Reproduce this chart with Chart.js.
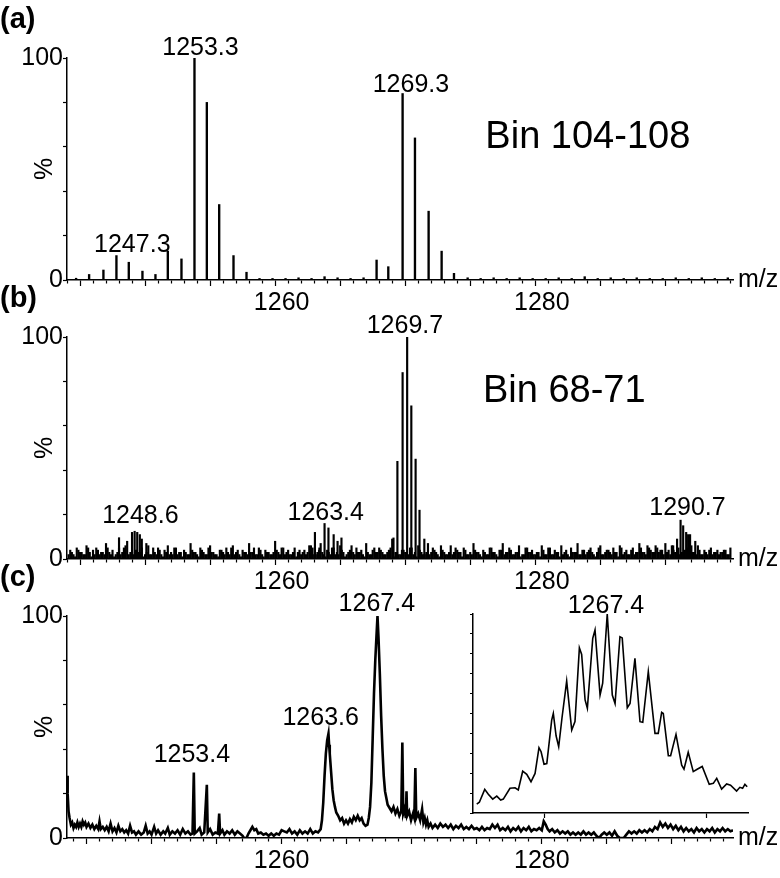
<!DOCTYPE html>
<html>
<head>
<meta charset="utf-8">
<script src="https://cdn.jsdelivr.net/npm/chart.js@4.4.0/dist/chart.umd.min.js"></script>
<style>
  body { margin: 0; background: #fff; width: 780px; height: 878px; position: relative; overflow: hidden; }
  canvas { position: absolute; left: 0; }
</style>
</head>
<body>
<canvas id="chartA" width="780" height="320" style="top:0px"></canvas>
<canvas id="chartB" width="780" height="320" style="top:279px"></canvas>
<canvas id="chartC" width="780" height="320" style="top:558px"></canvas>
<canvas id="chartInset" width="360" height="240" style="left:400px;top:590px"></canvas>
<script>
var FONT = "'Liberation Sans', Arial, sans-serif";

// shared axes
var mzMin = 1243.5, mzMax = 1294.7;
var xLabels = [1260, 1280];
var yLabels = [0, 100];

// (a) Bin 104-108
var mzA = [1244.2, 1245.2, 1246.3, 1247.3, 1248.25, 1249.3, 1250.3, 1251.25, 1252.3, 1253.3,
           1254.25, 1255.2, 1256.3, 1257.3, 1258.3, 1259.3, 1260.3, 1261.3, 1262.3, 1263.3,
           1264.3, 1265.3, 1266.3, 1267.3, 1268.2, 1269.3, 1270.25, 1271.3, 1272.3, 1273.25,
           1274.3, 1275.3, 1276.3, 1277.3, 1278.3, 1279.3, 1280.3, 1281.3, 1282.3, 1283.3,
           1284.3, 1285.3, 1286.3, 1287.3, 1288.3, 1289.3, 1290.3, 1291.3, 1292.3, 1293.3, 1294.3];
var intA = [0.8, 2.5, 4.5, 11, 8, 4, 2.5, 13, 9.5, 100,
            80, 34, 11, 3.5, 0.7, 0.7, 0.7, 1, 0.7, 1.5,
            1, 0.7, 1, 9, 6, 84, 64, 31, 13, 3,
            1, 0.7, 1, 0.7, 1, 0.7, 0.7, 1, 0.7, 1.5,
            0.7, 1, 0.7, 1, 0.7, 0.7, 1, 0.7, 1, 0.7, 1];

// (b) Bin 68-71
var mzB = [1247.5, 1248.5, 1248.7, 1248.9, 1249.1, 1249.25, 1249.6,
           1262.56, 1262.9, 1263.3, 1263.6, 1264.0, 1264.3, 1264.6,
           1268.6, 1268.9, 1269.3, 1269.65, 1269.97, 1270.3, 1270.6, 1270.97,
           1290.1, 1290.4, 1290.67, 1290.87, 1291.1, 1291.25, 1291.4, 1291.8];
var intB = [9.6, 12, 12.5, 12, 11, 9, 7,
            12, 5, 16, 14, 11, 8, 9.5,
            9.5, 44, 84, 100, 69, 45, 22, 9,
            6, 9, 17.5, 15, 12, 11, 11, 8];
var noiseStartB = 1243.75, noiseStartB2 = 1243.625, noiseStepB = 0.25;
var noiseB = [4,2,5,3, 2,6,3,4, 5,2,3,7, 3,4,2,5, 3,6,2,3, 4,3,5,2, 6,2,3,5, 2,4,6,3,
              5,2,3,4, 2,7,3,2, 5,3,2,6, 3,2,4,3, 5,2,6,3, 2,4,3,7, 3,2,5,2, 4,3,2,8,
              3,5,2,4, 2,5,3,2, 4,3,6,2, 3,7,2,4, 2,5,3,6, 3,2,4,3, 5,3,2,7, 2,4,3,5,
              3,2,4,9, 3,2,4,3, 2,5,3,6, 3,2,7,3, 4,2,6,3, 2,6,3,4, 3,5,2,3, 7,3,2,4,
              2,5,3,2, 4,7,3,5, 2,3,6,2, 5,3,4,2, 3,6,2,5, 2,4,3,6, 3,2,5,3, 7,2,4,3,
              5,2,3,6, 2,4,3,5, 3,6,2,4, 2,5,3,7, 3,2,5,3, 6,3,4,7, 4,6,3,5, 3,4,5,6,
              3,6,2,4, 2,5,3,4, 3,4,2,5];
var noiseB2 = [2,3,1,4, 3,2,5,1, 2,4,3,2, 5,2,1,3, 2,5,8,3, 2,4,3,1, 3,2,5,2, 4,1,3,2,
               2,5,3,1, 3,2,4,3, 1,4,2,5, 3,2,1,4, 2,3,5,2, 4,1,3,2, 3,5,2,4, 1,3,2,3,
               4,2,5,3, 2,3,1,4, 3,2,6,5, 2,4,3,1, 3,5,2,2, 4,1,3,6, 2,3,4,1, 3,2,5,3,
               4,2,3,5, 1,3,2,4, 3,5,2,1, 4,2,3,2, 5,3,1,4, 2,3,2,5, 3,1,4,2, 2,4,3,1,
               3,2,5,3, 1,4,2,3, 4,2,3,1, 2,5,3,2, 3,1,4,2, 5,2,3,1, 2,4,1,3, 3,2,4,2,
               4,3,1,5, 2,3,4,2, 3,1,5,3, 2,4,2,3, 5,3,6,4, 3,5,4,2, 3,2,4,3, 2,3,1,4,
               3,2,4,2, 3,4,2,3, 2,3,4,2];

// (c) profile trace [m/z, %]
var traceC = [
  [1243.5,28],[1243.55,20],[1243.62,12],[1243.7,9],[1243.8,6],[1243.9,7],[1244.0,4.5],[1244.1,6],
  [1244.2,5],[1244.3,7],[1244.4,5],[1244.5,6.5],[1244.6,5],[1244.7,7.5],[1244.8,6],[1244.9,7],
  [1245.0,5],[1245.15,6.5],[1245.3,4.5],[1245.45,6],[1245.6,4],[1245.75,5.5],[1245.9,4],[1246.0,7.5],
  [1246.1,4],[1246.25,5],[1246.4,3.5],[1246.55,5],[1246.7,3],[1246.85,6.5],[1247.0,3],[1247.15,4.5],
  [1247.3,2.5],[1247.45,5.5],[1247.6,3],[1247.75,4],[1247.9,2.5],[1248.05,3.5],[1248.2,2],[1248.35,5.5],
  [1248.5,2.5],[1248.65,3],[1248.8,1.5],[1249.0,3],[1249.2,1.5],[1249.4,2.5],[1249.55,5.5],[1249.7,2],
  [1249.85,3],[1250.0,1.5],[1250.2,5],[1250.35,2],[1250.5,3.5],[1250.7,1.5],[1250.9,3],[1251.05,2],
  [1251.25,4.5],[1251.4,1.5],[1251.6,3],[1251.8,2],[1252.0,3.5],[1252.2,1.5],[1252.4,4],[1252.6,2],
  [1252.8,3],[1253.0,1.5],[1253.15,2],[1253.25,29.5],[1253.32,2],[1253.5,3],[1253.7,4.5],[1253.85,1.5],
  [1254.05,2.5],[1254.25,24],[1254.32,2.5],[1254.5,4],[1254.7,1.5],[1254.9,2.5],[1255.1,2],[1255.2,11],
  [1255.27,2],[1255.45,3.5],[1255.6,1.5],[1255.8,3],[1256.0,2],[1256.2,3.5],[1256.4,1.5],[1256.6,3],
  [1256.8,2],[1257.0,1],[1257.1,0],[1257.3,0],[1257.45,2],[1257.6,3.5],[1257.75,5],[1257.9,3.5],
  [1258.05,4],[1258.2,2],[1258.4,2.5],[1258.6,1.5],[1258.8,2],[1259.0,1],[1259.2,2],[1259.4,1],
  [1259.6,2],[1259.8,1.5],[1260.0,3.5],[1260.2,3],[1260.4,2.5],[1260.6,4],[1260.8,2],[1261.0,3],
  [1261.2,1.5],[1261.4,3.5],[1261.6,2],[1261.8,3],[1262.0,2],[1262.2,4],[1262.4,2],[1262.6,3],
  [1262.8,2.5],[1263.0,4],[1263.1,8],[1263.2,16],[1263.3,28],[1263.4,38],[1263.5,44],[1263.6,47],
  [1263.65,42],[1263.7,38],[1263.8,30],[1263.9,22],[1264.0,17],[1264.1,14],[1264.2,11.5],[1264.35,10],
  [1264.5,8],[1264.65,9],[1264.8,6.5],[1264.95,8],[1265.1,6.5],[1265.25,8.5],[1265.4,7],[1265.55,9.5],
  [1265.7,8],[1265.85,10],[1266.0,8],[1266.15,9],[1266.3,6.5],[1266.45,5.5],[1266.6,6],[1266.7,9],
  [1266.8,14],[1266.9,25],[1267.0,45],[1267.1,65],[1267.2,80],[1267.3,92],[1267.37,100],[1267.45,90],
  [1267.55,74],[1267.65,55],[1267.75,40],[1267.85,28],[1267.95,21],[1268.05,18],[1268.15,15],[1268.3,13.5],
  [1268.45,12],[1268.6,14],[1268.75,11],[1268.9,13],[1269.05,10],[1269.2,12],[1269.28,43],[1269.35,11],
  [1269.45,13],[1269.55,9],[1269.6,21],[1269.65,10],[1269.8,12],[1269.95,8],[1270.1,11],[1270.2,9],
  [1270.28,31.5],[1270.35,9],[1270.5,11],[1270.65,8],[1270.8,13],[1270.9,7],[1271.0,9],[1271.1,6],
  [1271.2,8],[1271.3,5],[1271.45,6.5],[1271.6,4.5],[1271.8,6],[1272.0,4.5],[1272.2,6.5],[1272.4,5],
  [1272.6,6],[1272.8,4.5],[1273.0,6],[1273.2,4],[1273.4,5.5],[1273.6,4.5],[1273.8,6],[1274.0,4],
  [1274.2,5],[1274.4,4],[1274.6,5.5],[1274.8,4],[1275.0,4.5],[1275.2,3.5],[1275.4,5],[1275.6,3.5],
  [1275.8,4.5],[1276.0,4],[1276.2,6],[1276.4,4.5],[1276.6,6],[1276.8,3.5],[1277.0,4.5],[1277.2,3.5],
  [1277.4,5],[1277.6,3],[1277.8,4.5],[1278.0,3.5],[1278.2,5],[1278.4,3],[1278.6,4.5],[1278.8,3.5],
  [1279.0,5],[1279.2,3],[1279.4,4],[1279.6,3.5],[1279.8,4.5],[1280.0,3.5],[1280.15,7.5],[1280.3,6],
  [1280.45,4],[1280.6,3],[1280.8,4],[1281.0,2.5],[1281.2,3.5],[1281.4,2],[1281.6,3],[1281.8,2],
  [1282.0,3],[1282.2,1.5],[1282.4,2.5],[1282.6,1.5],[1282.8,2.5],[1283.0,1.5],[1283.2,3],[1283.4,1.5],
  [1283.6,2.5],[1283.8,1.5],[1284.0,2.5],[1284.2,1],[1284.4,0],[1284.6,1.5],[1284.8,2.5],[1285.0,1.5],
  [1285.2,2.5],[1285.4,1],[1285.6,3],[1285.8,1],[1286.0,0],[1286.3,0],[1286.5,1.5],[1286.7,3],
  [1286.9,2],[1287.1,3],[1287.3,2],[1287.5,3.5],[1287.7,2.5],[1287.9,3.5],[1288.1,2.5],[1288.3,4],
  [1288.5,3],[1288.7,5],[1288.9,4],[1289.1,7],[1289.3,5],[1289.5,6.5],[1289.7,4.5],[1289.9,6],
  [1290.1,4],[1290.3,5.5],[1290.5,3.5],[1290.7,5],[1290.9,3],[1291.1,4.5],[1291.3,3],[1291.5,4],
  [1291.7,2.5],[1291.9,4.5],[1292.1,3],[1292.3,4],[1292.5,2.5],[1292.7,4],[1292.9,3],[1293.1,4.5],
  [1293.3,2.5],[1293.5,4],[1293.7,3],[1293.9,4.5],[1294.1,3],[1294.3,4],[1294.5,3],[1294.7,3.5]
];

// (c) inset: zoom on the 1267.4 envelope
var insetMin = 1266.564, insetMax = 1268.252;
var insetTicks = [1267, 1268];
var traceInset = [
  [1266.587,4.5],[1266.603,5.4],[1266.636,11.9],[1266.658,9.4],[1266.685,7],[1266.710,8.5],[1266.734,6.5],
  [1266.750,7],[1266.791,12.4],[1266.822,12.7],[1266.842,11.6],[1266.869,21],[1266.894,19.4],[1266.920,15.7],
  [1266.945,19.9],[1266.969,32.8],[1266.982,30.8],[1267.000,24.5],[1267.017,24.8],[1267.047,46.7],[1267.057,50],
  [1267.074,38.8],[1267.090,33.3],[1267.110,47.6],[1267.139,66.3],[1267.170,41.7],[1267.190,45.9],[1267.217,83],
  [1267.231,79.7],[1267.252,56.8],[1267.266,52.6],[1267.299,87.8],[1267.313,92],[1267.344,59.3],[1267.360,65.2],
  [1267.388,100],[1267.419,59.3],[1267.436,55],[1267.466,88.6],[1267.480,88],[1267.511,52.9],[1267.528,55],
  [1267.558,77.7],[1267.589,45.9],[1267.606,45.6],[1267.640,71],[1267.681,40],[1267.701,40],[1267.722,50.6],
  [1267.732,50],[1267.763,28.8],[1267.777,28.8],[1267.810,39.5],[1267.845,24],[1267.859,22],[1267.885,30.5],
  [1267.916,20.8],[1267.940,22],[1267.971,23.4],[1268.014,14.4],[1268.039,14.9],[1268.060,17.4],[1268.090,12],
  [1268.121,14.6],[1268.145,14],[1268.182,11],[1268.202,12.9],[1268.219,12.4],[1268.233,14.4],[1268.247,13.2]
];

function pairs(mz, val) {
  return mz.map(function (m, i) { return { x: m, y: val[i] }; });
}

function grid(start, step, vals) {
  return vals.map(function (v, i) { return { x: start + i * step, y: v }; });
}

var sticksB = pairs(mzB, intB)
  .concat(grid(noiseStartB, noiseStepB, noiseB))
  .concat(grid(noiseStartB2, noiseStepB, noiseB2))
  .sort(function (a, b) { return a.x - b.x; });

function xAxis() {
  return {
    type: 'linear', min: mzMin, max: mzMax, offset: false,
    afterBuildTicks: function (s) {
      var t = [];
      for (var v = 1244; v <= 1294; v++) t.push({ value: v });
      s.ticks = t;
    },
    afterFit: function (s) { s.height = 40; },
    border: { color: '#000', width: 1.5 },
    grid: {
      drawOnChartArea: false, tickLength: 6, tickColor: '#000', tickWidth: 1.2,
      tickBorderDash: function (c) { return c.tick && c.tick.value % 5 === 0 ? [] : [3, 20]; }
    },
    ticks: {
      autoSkip: false, maxRotation: 0, minRotation: 0, padding: 2, color: '#000',
      font: { family: FONT, size: 25 },
      callback: function (v) { return xLabels.indexOf(v) >= 0 ? String(v) : ''; }
    }
  };
}

function yAxis() {
  return {
    min: 0, max: 100,
    afterFit: function (s) { s.width = 67; },
    border: { color: '#000', width: 1.5 },
    grid: { drawOnChartArea: false, tickLength: 4, tickColor: '#000', tickWidth: 1.2 },
    ticks: {
      stepSize: 10, padding: 0, color: '#000', font: { family: FONT, size: 25 },
      callback: function (v) { return yLabels.indexOf(v) >= 0 ? String(v) : ''; }
    }
  };
}

function textPlugin(cfg) {
  return {
    id: 'panelText',
    afterDraw: function (chart) {
      var c = chart.ctx, a = chart.chartArea, xs = chart.scales.x, ys = chart.scales.y;
      c.save();
      c.fillStyle = '#000';
      c.textBaseline = 'alphabetic';
      (cfg.labels || []).forEach(function (l) {
        c.font = (l.size || 25) + 'px ' + FONT;
        c.textAlign = 'center';
        c.fillText(l.text, xs.getPixelForValue(l.mz), ys.getPixelForValue(l.at));
      });
      if (cfg.letter) {
        c.font = 'bold 29px ' + FONT;
        c.textAlign = 'left';
        c.fillText(cfg.letter, 0, 28);
      }
      if (cfg.axisText) {
        c.font = '25px ' + FONT;
        c.textAlign = 'left';
        c.fillText('m/z', a.right + 5, a.bottom + 7);
        c.translate(45, (a.top + a.bottom) / 2);
        c.rotate(-Math.PI / 2);
        c.textAlign = 'center';
        c.textBaseline = 'middle';
        c.fillText('%', 0, 0);
      }
      c.restore();
    }
  };
}

function panel(id, type, dataset, cfg) {
  return new Chart(document.getElementById(id), {
    type: type,
    data: { datasets: [dataset] },
    options: {
      responsive: false, animation: false, events: [],
      layout: { padding: { top: 58, right: 47, bottom: 0, left: 0 } },
      plugins: { legend: { display: false }, tooltip: { enabled: false } },
      scales: { x: xAxis(), y: yAxis() }
    },
    plugins: [textPlugin(cfg)]
  });
}

panel('chartA', 'bar', {
  data: pairs(mzA, intA), backgroundColor: '#000', barThickness: 1.7, grouped: false
}, {
  letter: '(a)', axisText: true,
  labels: [
    { text: '1253.3', mz: 1253.76, at: 101.4 },
    { text: '1269.3', mz: 1269.94, at: 84.7 },
    { text: '1247.3', mz: 1248.52, at: 12.6 },
    { text: 'Bin 104-108', mz: 1283.54, at: 59.5, size: 38 }
  ]
});

panel('chartB', 'bar', {
  data: sticksB, backgroundColor: '#000', barThickness: 1.5, grouped: false
}, {
  letter: '(b)', axisText: true,
  labels: [
    { text: '1269.7', mz: 1269.48, at: 101.8 },
    { text: 'Bin 68-71', mz: 1281.73, at: 70.7, size: 38 },
    { text: '1248.6', mz: 1249.14, at: 16.2 },
    { text: '1263.4', mz: 1263.39, at: 17.6 },
    { text: '1290.7', mz: 1291.2, at: 19.8 }
  ]
});

panel('chartC', 'line', {
  data: traceC.map(function (p) { return { x: p[0], y: p[1] }; }),
  borderColor: '#000', borderWidth: 2.6, pointRadius: 0, tension: 0, fill: false
}, {
  letter: '(c)', axisText: true,
  labels: [
    { text: '1267.4', mz: 1267.32, at: 102.3 },
    { text: '1263.6', mz: 1263.0, at: 50.9 },
    { text: '1253.4', mz: 1253.1, at: 34.2 }
  ]
});

new Chart(document.getElementById('chartInset'), {
  type: 'line',
  data: {
    datasets: [{
      data: traceInset.map(function (p) { return { x: p[0], y: p[1] }; }),
      borderColor: '#000', borderWidth: 1.6, pointRadius: 0, tension: 0, fill: false
    }]
  },
  options: {
    responsive: false, animation: false, events: [],
    layout: { padding: { top: 24, right: 12, bottom: 17, left: 73 } },
    plugins: { legend: { display: false }, tooltip: { enabled: false } },
    scales: {
      x: {
        type: 'linear', min: insetMin, max: insetMax, offset: false,
        afterBuildTicks: function (s) { s.ticks = insetTicks.map(function (v) { return { value: v }; }); },
        afterFit: function (s) { s.height = 0; },
        border: { color: '#000', width: 1.5 },
        grid: { drawOnChartArea: false, tickLength: 5, tickColor: '#000', tickWidth: 1.2 },
        ticks: { display: false }
      },
      y: {
        min: 0, max: 100,
        afterFit: function (s) { s.width = 0; },
        border: { color: '#000', width: 1.5 },
        grid: { drawOnChartArea: false, tickLength: 3, tickColor: '#000', tickWidth: 1.2 },
        ticks: { display: false, stepSize: 10 }
      }
    }
  },
  plugins: [{
    id: 'insetLabel',
    afterDraw: function (chart) {
      var c = chart.ctx;
      c.save();
      c.fillStyle = '#000';
      c.font = '25px ' + FONT;
      c.textAlign = 'center';
      c.fillText('1267.4', chart.scales.x.getPixelForValue(1267.38), chart.scales.y.getPixelForValue(100.5));
      c.restore();
    }
  }]
});
</script>
</body>
</html>
